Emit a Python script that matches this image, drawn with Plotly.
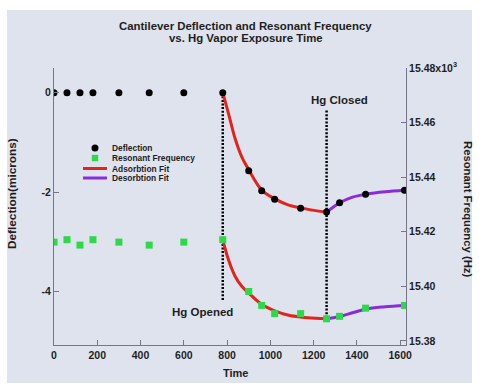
import plotly.graph_objects as go

# ---------------- data ----------------
time_pts = [0, 60, 120, 180, 300, 440, 600, 780, 900, 960, 1020, 1140, 1260, 1320, 1440, 1620]
deflection = [0, 0, 0, 0, 0, 0, 0, 0, -1.57, -1.97, -2.14, -2.32, -2.40, -2.21, -2.04, -1.96]
frequency = [15.4162, 15.4171, 15.4151, 15.4171, 15.4162, 15.4151, 15.4162, 15.4171,
             15.3981, 15.3930, 15.3900, 15.3900, 15.3881, 15.3890, 15.3920, 15.3930]

ads_time = [780, 806, 837, 868, 899, 961, 1023, 1085, 1147, 1209, 1260]
ads_defl = [0, -0.41, -0.92, -1.29, -1.54, -1.96, -2.14, -2.26, -2.32, -2.37, -2.40]
ads_freq = [15.4171, 15.4098, 15.4037, 15.4000, 15.3976, 15.3933, 15.3909, 15.3894, 15.3887, 15.3883, 15.3881]

des_time = [1260, 1290, 1322, 1380, 1443, 1530, 1620]
des_defl = [-2.40, -2.30, -2.21, -2.10, -2.04, -1.99, -1.96]
des_freq = [15.3881, 15.3885, 15.3890, 15.3903, 15.3917, 15.3925, 15.3930]

event_times = [780, 1260]
event_labels = ["Hg Opened", "Hg Closed"]

x_ticks = [0, 200, 400, 600, 800, 1000, 1200, 1400, 1600]
y_ticks = [0, -2, -4]
y_ticktext = ["0", "-2", "-4"]
y2_ticks = [15.38, 15.40, 15.42, 15.44, 15.46, 15.48]
y2_ticktext = ["15.38", "15.40", "15.42", "15.44", "15.46", "15.48x10<sup>3</sup>"]

legend_names = ["Deflection", "Resonant Frequency", "Adsorbtion Fit", "Desorbtion Fit"]

# ---------------- style ----------------
W, H = 479, 386
L, R, T, B = 54, 406, 68, 345
BG = "#dee3ee"
AXC = "#767686"
TXT = "#1e1e1e"
RED = "#e3231c"
PURPLE = "#8a2be2"
GREEN = "#2bd94a"
FONT = "Liberation Sans, Arial, sans-serif"


def px(x, y):
    return (x - L) / (R - L), (B - y) / (B - T)


fig = go.Figure()

fig.add_trace(go.Scatter(x=ads_time, y=ads_defl, mode="lines", line=dict(color=RED, width=3, shape="spline"),
                         yaxis="y", showlegend=False))
fig.add_trace(go.Scatter(x=des_time, y=des_defl, mode="lines", line=dict(color=PURPLE, width=3, shape="spline"),
                         yaxis="y", showlegend=False))
fig.add_trace(go.Scatter(x=time_pts, y=deflection, mode="markers",
                         marker=dict(color="black", size=7, symbol="circle"), yaxis="y", showlegend=False))

fig.add_trace(go.Scatter(x=ads_time, y=ads_freq, mode="lines", line=dict(color=RED, width=3, shape="spline"),
                         yaxis="y2", showlegend=False))
fig.add_trace(go.Scatter(x=des_time, y=des_freq, mode="lines", line=dict(color=PURPLE, width=3, shape="spline"),
                         yaxis="y2", showlegend=False))
fig.add_trace(go.Scatter(x=time_pts, y=frequency, mode="markers",
                         marker=dict(color=GREEN, size=7, symbol="square"), yaxis="y2", showlegend=False))

shapes = []
# background panel
x0, y0 = px(7, 383)
x1, y1 = px(472, 10)
shapes.append(dict(type="rect", xref="paper", yref="paper", x0=x0, y0=y0, x1=x1, y1=y1,
                   fillcolor=BG, line=dict(width=0), layer="below"))
# event lines
event_spans = [(0.0, -4.17), (-0.36, -4.57)]
for t, (ya, yb) in zip(event_times, event_spans):
    shapes.append(dict(type="line", xref="x", yref="y", x0=t, x1=t, y0=ya, y1=yb,
                       line=dict(color="black", width=2.5, dash="2px,1.6px"), layer="below"))

# custom legend
lx = 95
rows = [148, 158, 168.5, 178]
r0x, r0y = px(lx - 3.5, rows[0] + 3.5)
r1x, r1y = px(lx + 3.5, rows[0] - 3.5)
shapes.append(dict(type="circle", xref="paper", yref="paper", x0=r0x, y0=r0y, x1=r1x, y1=r1y,
                   fillcolor="black", line=dict(width=0)))
s0x, s0y = px(lx - 3.2, rows[1] + 3.2)
s1x, s1y = px(lx + 3.2, rows[1] - 3.2)
shapes.append(dict(type="rect", xref="paper", yref="paper", x0=s0x, y0=s0y, x1=s1x, y1=s1y,
                   fillcolor=GREEN, line=dict(width=0)))
for row, col in zip(rows[2:], [RED, PURPLE]):
    a, b = px(83, row)
    c, d = px(107, row)
    shapes.append(dict(type="line", xref="paper", yref="paper", x0=a, y0=b, x1=c, y1=d,
                       line=dict(color=col, width=3)))

annotations = []
for name, row in zip(legend_names, rows):
    ax_, ay_ = px(110, row)
    annotations.append(dict(text=name, xref="paper", yref="paper", x=ax_, y=ay_, xanchor="left",
                            yanchor="middle", showarrow=False,
                            font=dict(family=FONT, size=8.4, color=TXT, weight="bold")))

# title
for txt, yy in [("Cantilever Deflection and Resonant Frequency", 25.5), ("vs. Hg Vapor Exposure Time", 37.5)]:
    ax_, ay_ = px(245.5, yy)
    annotations.append(dict(text=txt, xref="paper", yref="paper", x=ax_, y=ay_, xanchor="center",
                            yanchor="middle", showarrow=False,
                            font=dict(family=FONT, size=11.4, color=TXT, weight="bold")))

# event labels
for lab, (xx, yy) in zip(event_labels, [(202, 311.5), (339.5, 100)]):
    ax_, ay_ = px(xx, yy)
    annotations.append(dict(text=lab, xref="paper", yref="paper", x=ax_, y=ay_, xanchor="center",
                            yanchor="middle", showarrow=False,
                            font=dict(family=FONT, size=11.5, color=TXT, weight="bold")))

# axis titles
ax_, ay_ = px(235, 373)
annotations.append(dict(text="Time", xref="paper", yref="paper", x=ax_, y=ay_, showarrow=False,
                        xanchor="center", yanchor="middle",
                        font=dict(family=FONT, size=11, color=TXT, weight="bold")))
ax_, ay_ = px(12, 194)
annotations.append(dict(text="Deflection(microns)", xref="paper", yref="paper", x=ax_, y=ay_,
                        showarrow=False, textangle=-90, xanchor="center", yanchor="middle",
                        font=dict(family=FONT, size=11.8, color=TXT, weight="bold")))
ax_, ay_ = px(468, 209)
annotations.append(dict(text="Resonant Frequency (Hz)", xref="paper", yref="paper", x=ax_, y=ay_,
                        showarrow=False, textangle=90, xanchor="center", yanchor="middle",
                        font=dict(family=FONT, size=11.3, color=TXT, weight="bold")))

tickfont = dict(family=FONT, size=10.5, color=TXT, weight="bold")
axis_common = dict(showgrid=False, zeroline=False, showline=True, linecolor=AXC, linewidth=1,
                   ticks="inside", ticklen=5, tickcolor=AXC, tickfont=tickfont)

fig.update_layout(
    width=W, height=H,
    margin=dict(l=L, r=W - R, t=T, b=H - B, pad=0),
    paper_bgcolor="white",
    plot_bgcolor="rgba(0,0,0,0)",
    showlegend=False,
    shapes=shapes,
    annotations=annotations,
    xaxis=dict(range=[0, 1627], tickvals=x_ticks, **axis_common),
    yaxis=dict(range=[-5.07, 0.496], tickvals=y_ticks, ticktext=y_ticktext, **axis_common),
    yaxis2=dict(range=[15.3785, 15.48], overlaying="y", side="right", tickvals=y2_ticks,
                ticktext=y2_ticktext, **axis_common),
)

fig.write_html("out.html")
